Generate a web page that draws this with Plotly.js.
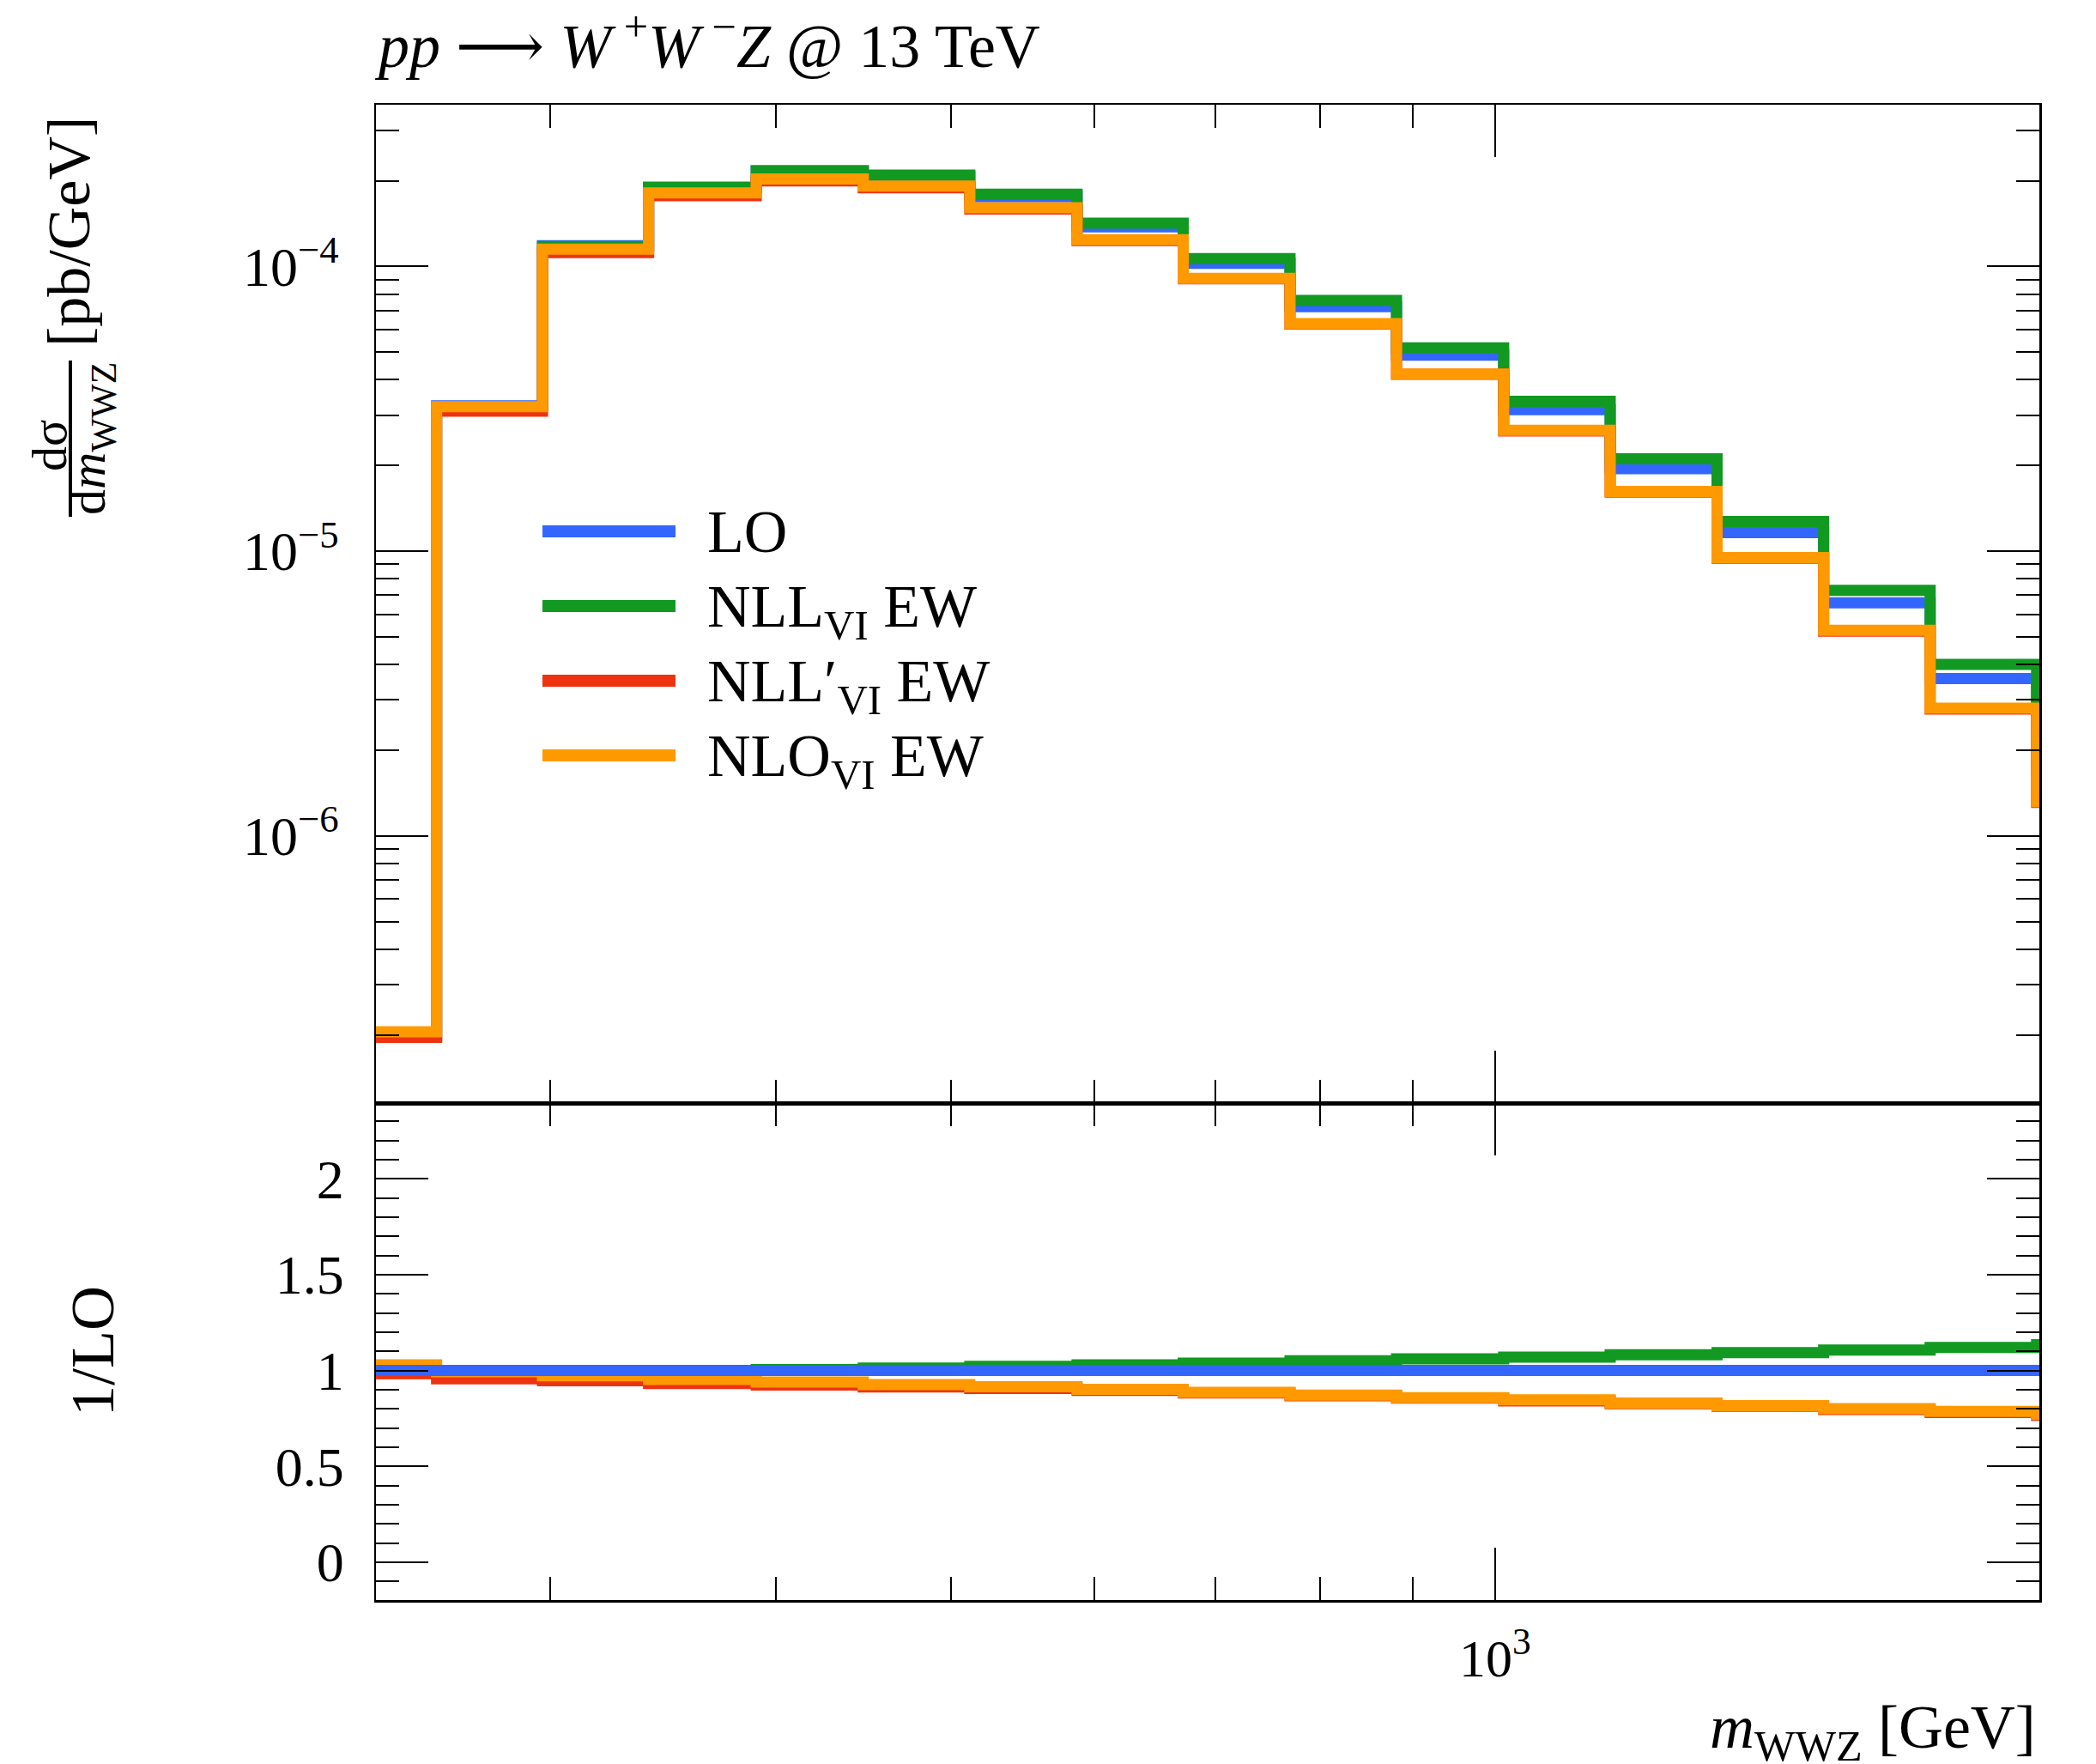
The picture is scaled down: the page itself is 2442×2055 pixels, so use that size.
<!DOCTYPE html>
<html><head><meta charset="utf-8">
<script src="https://cdn.plot.ly/plotly-3.0.1.min.js"></script>
<style>html,body{margin:0;padding:0;background:#fff}#chart{width:2442px;height:2055px}</style>
</head><body><div id="chart"></div>
<script>
// ---- data ----
const binEdges = [240, 259.5, 297, 340, 390, 447, 512, 587, 672, 770, 882, 1011, 1158, 1327, 1520, 1741, 1994, 2285];
const seriesNames = ['LO', 'NLL<sub>VI</sub> EW', 'NLL′<sub>VI</sub> EW', 'NLO<sub>VI</sub> EW'];
const loValues = [1.99e-7, 3.24e-5, 1.182e-4, 1.90e-4, 2.16e-4, 2.067e-4, 1.757e-4, 1.377e-4, 1.026e-4, 7.23e-5, 4.88e-5, 3.14e-5, 1.95e-5, 1.162e-5, 6.58e-6, 3.57e-6, 1.71e-6];
const nllValues = [1.96e-7, 3.21e-5, 1.174e-4, 1.894e-4, 2.171e-4, 2.094e-4, 1.795e-4, 1.418e-4, 1.065e-4, 7.60e-5, 5.18e-5, 3.36e-5, 2.11e-5, 1.271e-5, 7.28e-6, 4.00e-6, 1.94e-6];
const nllPrimeValues = [1.958e-7, 3.10e-5, 1.119e-4, 1.771e-4, 1.996e-4, 1.891e-4, 1.592e-4, 1.234e-4, 9.06e-5, 6.28e-5, 4.18e-5, 2.644e-5, 1.613e-5, 9.45e-6, 5.24e-6, 2.79e-6, 1.31e-6];
const nloValues = [2.05e-7, 3.22e-5, 1.150e-4, 1.811e-4, 2.030e-4, 1.916e-4, 1.608e-4, 1.242e-4, 9.09e-5, 6.30e-5, 4.19e-5, 2.66e-5, 1.62e-5, 9.49e-6, 5.27e-6, 2.81e-6, 1.32e-6];
const mainYTickVals = [1e-6, 1e-5, 1e-4];
const mainYTickText = ['10<sup>−6</sup>', '10<sup>−5</sup>', '10<sup>−4</sup>'];
const xTickVals = [1000];
const xTickText = ['10<sup>3</sup>'];
const ratioTickVals = [0, 0.5, 1, 1.5, 2];
const ratioTickText = ['0', '0.5', '1', '1.5', '2'];

// ---- style ----
const colors = ['#3366ff', '#119922', '#ee3311', '#ff9900'];
const FONT = 'Liberation Serif, DejaVu Serif, serif';
const LW = 13;
const L = 438, R = 2376, T = 122, B = 1864, SPLIT = 1285;
const W = R - L, H = B - T;
const split = (B - SPLIT) / H;
const px2x = px => (px - L) / W;
const px2y = py => (B - py) / H;

const allSeries = [loValues, nllValues, nllPrimeValues, nloValues];
const stepY = v => v.concat([v[v.length - 1]]);

const traces = [];
// main panel: LO, NLL, NLL', NLO (NLO on top)
allSeries.forEach((vals, i) => {
  traces.push({x: binEdges, y: stepY(vals), xaxis: 'x', yaxis: 'y', type: 'scatter', mode: 'lines',
    line: {shape: 'hv', color: colors[i], width: LW}, name: seriesNames[i], showlegend: false, hoverinfo: 'skip'});
});
// ratio panel: others first, LO on top
[1, 2, 3, 0].forEach(i => {
  const r = allSeries[i].map((v, k) => v / loValues[k]);
  traces.push({x: binEdges, y: stepY(r), xaxis: 'x2', yaxis: 'y2', type: 'scatter', mode: 'lines',
    line: {shape: 'hv', color: colors[i], width: LW}, name: seriesNames[i], showlegend: false, hoverinfo: 'skip'});
});

const minorX = [300, 400, 500, 600, 700, 800, 900, 2000];
const minorY = [];
for (let e = -7; e <= -4; e++) for (let m = 2; m <= 9; m++) minorY.push(m * Math.pow(10, e));

const common = {ticks: 'inside', tickwidth: 2, tickcolor: '#000', showline: true, linecolor: '#000', linewidth: 2.5,
  mirror: 'allticks', showgrid: false, zeroline: false};
const xr = [Math.log10(240.2), Math.log10(2001)];
const minorCfg = vals => ({tickmode: 'array', tickvals: vals, ticks: 'inside', ticklen: 27, tickwidth: 2, tickcolor: '#000', showgrid: false});

const shapes = [];
const annotations = [];
const legendY0 = 619, legendDY = 87;
seriesNames.forEach((n, i) => {
  const y = legendY0 + legendDY * i;
  shapes.push({type: 'line', xref: 'paper', yref: 'paper', x0: px2x(632), x1: px2x(787), y0: px2y(y), y1: px2y(y),
    line: {color: colors[i], width: 14}});
  annotations.push({xref: 'paper', yref: 'paper', x: px2x(822), y: px2y(y - 40), xanchor: 'left', yanchor: 'top',
    text: n, showarrow: false, font: {family: FONT, size: 70, color: '#000'}});
});
// y-axis title (fraction)
shapes.push({type: 'line', xref: 'paper', yref: 'paper', x0: px2x(82), x1: px2x(82), y0: px2y(420), y1: px2y(602),
  line: {color: '#000', width: 4}});
annotations.push({xref: 'paper', yref: 'paper', x: px2x(57), y: px2y(519), xanchor: 'center', yanchor: 'middle',
  text: 'dσ', textangle: -90, showarrow: false, font: {family: FONT, size: 58, color: '#000'}});
annotations.push({xref: 'paper', yref: 'paper', x: px2x(106), y: px2y(511), xanchor: 'center', yanchor: 'middle',
  text: 'd<i>m</i><sub>WWZ</sub>', textangle: -90, showarrow: false, font: {family: FONT, size: 60, color: '#000'}});
annotations.push({xref: 'paper', yref: 'paper', x: px2x(80), y: px2y(270), xanchor: 'center', yanchor: 'middle',
  text: '[pb/GeV]', textangle: -90, showarrow: false, font: {family: FONT, size: 70, color: '#000'}});
annotations.push({xref: 'paper', yref: 'paper', x: px2x(108), y: px2y(1574), xanchor: 'center', yanchor: 'middle',
  text: '1/LO', textangle: -90, showarrow: false, font: {family: FONT, size: 72, color: '#000'}});
annotations.push({xref: 'paper', yref: 'paper', x: px2x(2374), y: px2y(2017), xanchor: 'right', yanchor: 'middle',
  text: '<i>m</i><sub>WWZ</sub> [GeV]', showarrow: false, font: {family: FONT, size: 72, color: '#000'}});

const layout = {
  width: 2442, height: 2055,
  margin: {l: L, r: 2442 - R, t: T, b: 2055 - B, pad: 0},
  paper_bgcolor: '#fff', plot_bgcolor: '#fff',
  font: {family: FONT, color: '#000'},
  showlegend: false,
  title: {text: '<i>pp</i> ⟶ <i>W</i>\u2009<sup>+</sup><i>W</i>\u2009<sup>−</sup><i>Z</i> @ 13 TeV', font: {family: FONT, size: 72, color: '#000'},
    xref: 'container', x: 441 / 2442, xanchor: 'left', yref: 'container', y: 1 - 53 / 2055, yanchor: 'middle'},
  xaxis: Object.assign({}, common, {type: 'log', range: xr, domain: [0, 1], anchor: 'y', showticklabels: false,
    tickmode: 'array', tickvals: xTickVals, ticktext: xTickText, ticklen: 61, minor: minorCfg(minorX)}),
  xaxis2: Object.assign({}, common, {type: 'log', range: xr, domain: [0, 1], anchor: 'y2', showticklabels: true,
    tickmode: 'array', tickvals: xTickVals, ticktext: xTickText, ticklen: 61, minor: minorCfg(minorX),
    tickfont: {family: FONT, size: 62, color: '#000'}, ticklabelstandoff: 12}),
  yaxis: Object.assign({}, common, {type: 'log', range: [-6.9385, -3.4319], domain: [split, 1], anchor: 'x',
    tickmode: 'array', tickvals: mainYTickVals, ticktext: mainYTickText, ticklen: 61, minor: minorCfg(minorY),
    tickfont: {family: FONT, size: 64, color: '#000'}, ticklabelstandoff: 28}),
  yaxis2: Object.assign({}, common, {range: [-0.197, 2.395], domain: [0, split], anchor: 'x2',
    tickmode: 'array', tickvals: ratioTickVals, ticktext: ratioTickText, ticklen: 61,
    minor: {tickmode: 'linear', tick0: 0, dtick: 0.1, ticks: 'inside', ticklen: 27, tickwidth: 2, tickcolor: '#000', showgrid: false},
    tickfont: {family: FONT, size: 64, color: '#000'}, ticklabelstandoff: 22}),
  shapes: shapes,
  annotations: annotations
};

Plotly.newPlot('chart', traces, layout, {staticPlot: true, displayModeBar: false});
</script>
</body></html>
